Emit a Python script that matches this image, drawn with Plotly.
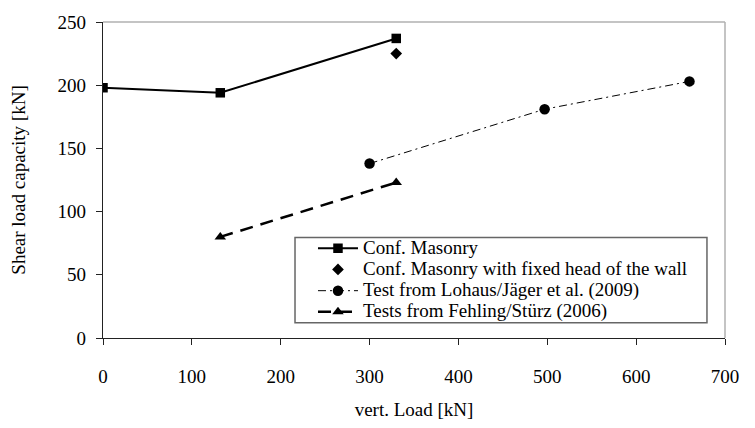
import plotly.graph_objects as go

conf_x = [0, 132, 330]
conf_y = [198, 194, 237]
fixed_x = [330]
fixed_y = [225]
lohaus_x = [300, 497, 660]
lohaus_y = [138, 181, 203]
fehling_x = [132, 330]
fehling_y = [80, 123]

names = ["Conf. Masonry",
         "Conf. Masonry with fixed head of the wall",
         "Test from Lohaus/Jäger et al. (2009)",
         "Tests from Fehling/Stürz (2006)"]

def lname(s):
    return "<span style='font-size:19px'>" + s + "</span>"

fig = go.Figure()
fig.add_trace(go.Scatter(x=conf_x, y=conf_y, mode="lines+markers", name=lname(names[0]),
                         line=dict(color="black", width=2),
                         marker=dict(symbol="square", size=9.5, color="black")))
fig.add_trace(go.Scatter(x=fixed_x, y=fixed_y, mode="markers", name=lname(names[1]),
                         marker=dict(symbol="diamond", size=9, color="black")))
fig.add_trace(go.Scatter(x=lohaus_x, y=lohaus_y, mode="lines+markers", name=lname(names[2]),
                         line=dict(color="black", width=1, dash="8px,4px,2px,4px"),
                         marker=dict(symbol="circle", size=10.5, color="black")))
fig.add_trace(go.Scatter(x=fehling_x, y=fehling_y, mode="lines+markers", name=lname(names[3]),
                         line=dict(color="black", width=2.5, dash="13px,8px"),
                         marker=dict(symbol="triangle-up", size=10, color="black")))

font = "Liberation Serif, Times New Roman, serif"
fig.update_layout(
    width=755, height=428,
    margin=dict(l=103, r=30, t=18, b=77),
    paper_bgcolor="white", plot_bgcolor="white",
    font=dict(family=font, size=19, color="black"),
    showlegend=True,
    legend=dict(x=0.3376, y=0.183, xanchor="left", yanchor="middle",
                borderwidth=0, bgcolor="rgba(0,0,0,0)",
                font=dict(family=font, size=14, color="black"),
                tracegroupgap=0, itemwidth=40),
    xaxis=dict(range=[0, 700], tickvals=[0, 100, 200, 300, 400, 500, 600, 700],
               showgrid=False, zeroline=False, showline=True, linecolor="#222", linewidth=1.3,
               ticks="outside", ticklen=6, tickcolor="#222", ticklabelstandoff=15,
               tickfont=dict(family=font, size=19),
               title=dict(text="vert. Load [kN]", font=dict(family=font, size=19), standoff=16)),
    yaxis=dict(range=[0, 250], tickvals=[0, 50, 100, 150, 200, 250],
               showgrid=False, zeroline=False, showline=True, linecolor="#222", linewidth=1.3,
               ticks="outside", ticklen=6, tickcolor="#222", ticklabelstandoff=6,
               tickfont=dict(family=font, size=19),
               title=dict(text="Shear load capacity [kN]", font=dict(family=font, size=19), standoff=26)),
)
# gray top/right border of the plot area
fig.add_shape(type="line", xref="paper", yref="paper", x0=0, x1=1, y0=1, y1=1,
              line=dict(color="#b0b0b0", width=1.5))
fig.add_shape(type="line", xref="paper", yref="paper", x0=1, x1=1, y0=0, y1=1,
              line=dict(color="#b0b0b0", width=1.5))
# legend frame
fig.add_shape(type="rect", xref="paper", yref="paper", x0=0.3087, x1=0.971, y0=0.048, y1=0.318,
              line=dict(color="#666666", width=1.5), fillcolor="white", layer="below")
fig.write_html("out.html")
